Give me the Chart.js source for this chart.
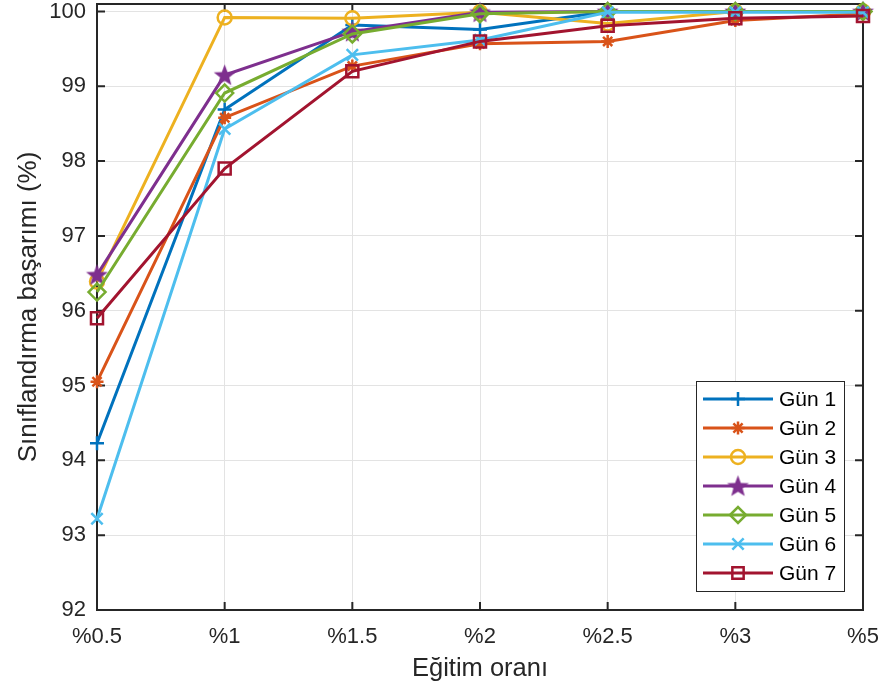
<!DOCTYPE html>
<html>
<head>
<meta charset="utf-8">
<script src="https://cdn.jsdelivr.net/npm/chart.js@4"></script>
<style>
  html, body { margin: 0; padding: 0; background: #fff; }
  #wrap { width: 885px; height: 691px; }
</style>
</head>
<body>
<div id="wrap"><canvas id="grafik"></canvas></div>
<script>
///// veriler
const oranlar = ["%0.5", "%1", "%1.5", "%2", "%2.5", "%3", "%5"];
const gun1 = [94.23, 98.69, 99.82, 99.76, 100.0, 100.0, 100.0];
const gun2 = [95.05, 98.58, 99.27, 99.57, 99.60, 99.88, 99.97];
const gun3 = [96.39, 99.92, 99.91, 99.99, 99.84, 100.0, 100.0];
const gun4 = [96.48, 99.15, 99.73, 99.99, 100.0, 100.0, 100.0];
const gun5 = [96.25, 98.91, 99.70, 99.97, 100.0, 100.0, 100.0];
const gun6 = [93.22, 98.43, 99.42, 99.62, 99.99, 99.99, 99.99];
const gun7 = [95.90, 97.90, 99.20, 99.60, 99.81, 99.91, 99.94];
const etiketler = ["Gün 1", "Gün 2", "Gün 3", "Gün 4", "Gün 5", "Gün 6", "Gün 7"];
const renkler = ["#0072BD", "#D95319", "#EDB120", "#7E2F8E", "#77AC30", "#4DBEEE", "#A2142F"];
const yTikler = [92, 93, 94, 95, 96, 97, 98, 99, 100];

const yazi = "'Liberation Sans', Arial, sans-serif";

///// beş köşeli yıldız (pentagram)
function yildiz(renk, r) {
    let c = document.createElement("canvas");
    c.width = 2 * r + 2;
    c.height = 2 * r + 2;
    let g = c.getContext("2d");
    g.beginPath();
    for (let i = 0; i < 10; i++) {
        let a = -Math.PI / 2 + i * Math.PI / 5;
        let rr = (i % 2 == 0) ? r : r * 0.42;
        let px = r + 1 + rr * Math.cos(a);
        let py = r + 1.8 + rr * Math.sin(a);
        if (i == 0) g.moveTo(px, py); else g.lineTo(px, py);
    }
    g.closePath();
    g.fillStyle = renk;
    g.fill();
    return c;
}

let seriler = [gun1, gun2, gun3, gun4, gun5, gun6, gun7];
let stiller = ["cross", "star", "circle", yildiz(renkler[3], 11.5), "rectRot", "crossRot", "rect"];
let yaricap = [7, 6.5, 7, 11.5, 8.5, 8, 8.5];

let datasets = seriler.map((d, i) => ({
    label: etiketler[i],
    data: d,
    borderColor: renkler[i],
    backgroundColor: renkler[i],
    borderWidth: 3,
    pointStyle: stiller[i],
    pointRadius: yaricap[i],
    pointHoverRadius: yaricap[i],
    pointBorderColor: renkler[i],
    pointBackgroundColor: i == 3 ? renkler[i] : "rgba(255,255,255,0)",
    pointBorderWidth: 2.5,
    order: 6 - i,
    clip: false,
    tension: 0
}));

///// eksen kutusu ve iç çentikler
const kutu = {
    id: "kutu",
    beforeDatasetsDraw(chart) {
        let ctx = chart.ctx;
        let a = chart.chartArea;
        let x = chart.scales.x, y = chart.scales.y;
        ctx.save();
        ctx.strokeStyle = "#262626";
        ctx.lineWidth = 2;
        ctx.strokeRect(a.left, a.top, a.right - a.left, a.bottom - a.top);
        ctx.beginPath();
        y.ticks.forEach((t, i) => {
            let py = y.getPixelForValue(t.value);
            ctx.moveTo(a.left, py); ctx.lineTo(a.left + 8, py);
            ctx.moveTo(a.right, py); ctx.lineTo(a.right - 8, py);
        });
        x.ticks.forEach((t, i) => {
            let px = x.getPixelForTick(i);
            ctx.moveTo(px, a.bottom); ctx.lineTo(px, a.bottom - 8);
            ctx.moveTo(px, a.top); ctx.lineTo(px, a.top + 8);
        });
        ctx.stroke();
        ctx.restore();
    }
};

///// lejant
const lejant = {
    id: "lejant",
    afterDraw(chart) {
        let ctx = chart.ctx;
        ctx.save();
        ctx.fillStyle = "#fff";
        ctx.fillRect(696, 381, 148, 210);
        ctx.strokeStyle = "#262626";
        ctx.lineWidth = 1;
        ctx.strokeRect(696.5, 381.5, 148, 210);
        chart.data.datasets.forEach((ds, i) => {
            let py = 399 + i * 29;
            ctx.strokeStyle = ds.borderColor;
            ctx.lineWidth = 3;
            ctx.beginPath();
            ctx.moveTo(703, py); ctx.lineTo(773, py);
            ctx.stroke();
            ctx.fillStyle = ds.pointBackgroundColor;
            ctx.lineWidth = 2.5;
            Chart.helpers.drawPoint(ctx, {
                pointStyle: ds.pointStyle,
                radius: Math.min(ds.pointRadius, 8),
                rotation: 0,
                borderWidth: 2.5
            }, 738, py);
            ctx.fillStyle = "#000";
            ctx.font = "21px " + yazi;
            ctx.textBaseline = "middle";
            ctx.fillText(ds.label, 779, py + 1);
        });
        ctx.restore();
    }
};

let grafik = new Chart(document.getElementById("grafik"), {
    type: "line",
    data: {
        labels: oranlar,
        datasets: datasets
    },
    options: {
        responsive: true,
        maintainAspectRatio: false,
        animation: false,
        events: [],
        layout: { autoPadding: false, padding: { left: 0, right: 22, top: 4, bottom: 0 } },
        plugins: {
            legend: { display: false },
            tooltip: { enabled: false }
        },
        scales: {
            x: {
                offset: false,
                afterFit: s => { s.height = 81; s.paddingLeft = 0; s.paddingRight = 0; },
                grid: { color: "#e3e3e3", lineWidth: 1, drawTicks: false },
                border: { display: false },
                ticks: {
                    color: "#262626",
                    padding: 14,
                    maxRotation: 0,
                    autoSkip: false,
                    font: { family: yazi, size: 22 }
                },
                title: {
                    display: true,
                    text: "Eğitim oranı",
                    color: "#262626",
                    padding: { top: 7, bottom: 7 },
                    font: { family: yazi, size: 25.5 }
                }
            },
            y: {
                min: 92,
                max: 100.1,
                afterBuildTicks: s => { s.ticks = yTikler.map(v => ({ value: v })); },
                afterFit: s => { s.width = 97; s.paddingTop = 0; s.paddingBottom = 0; },
                grid: { color: "#e3e3e3", lineWidth: 1, drawTicks: false },
                border: { display: false },
                ticks: {
                    color: "#262626",
                    padding: 11,
                    font: { family: yazi, size: 22 }
                },
                title: {
                    display: true,
                    text: "Sınıflandırma başarımı (%)",
                    color: "#262626",
                    padding: { top: 13, bottom: 13 },
                    font: { family: yazi, size: 26 }
                }
            }
        }
    },
    plugins: [kutu, lejant]
});
</script>
</body>
</html>
